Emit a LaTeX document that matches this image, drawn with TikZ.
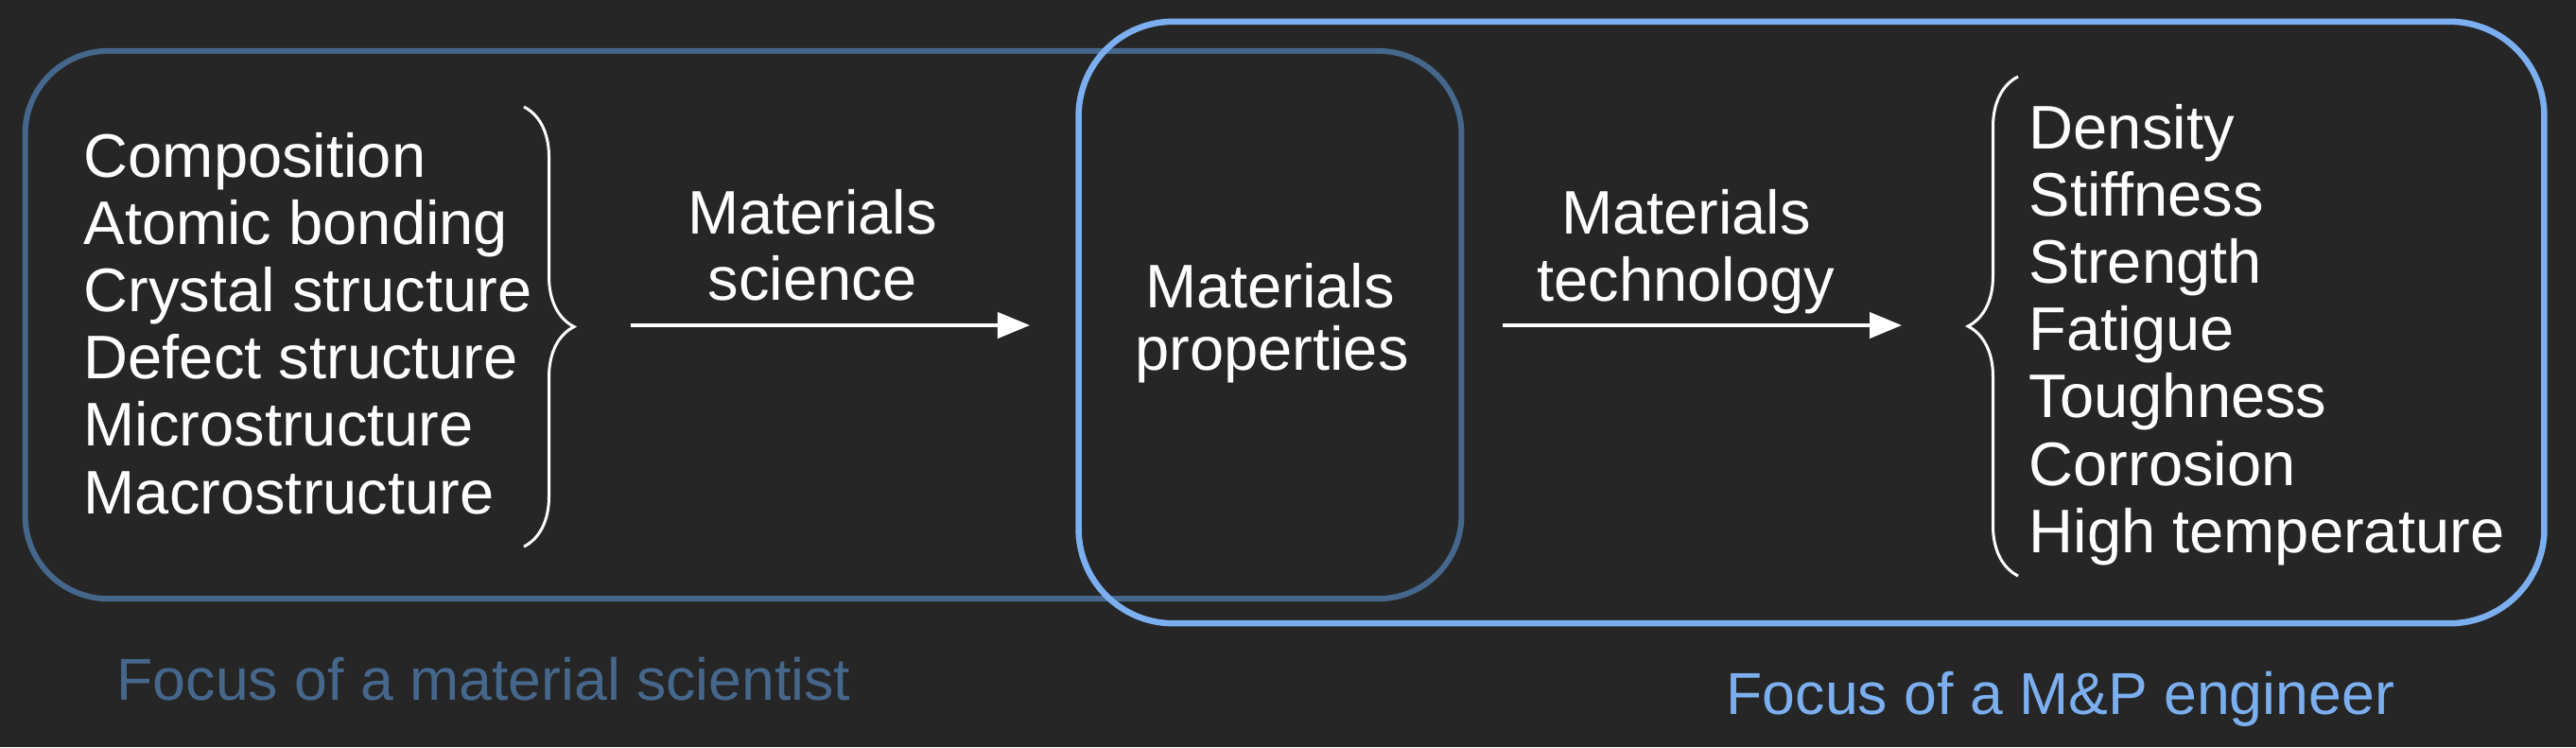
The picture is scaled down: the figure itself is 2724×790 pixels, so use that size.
\documentclass[tikz,border=0pt]{standalone}
\usepackage{fontspec}
\setmainfont{Liberation Sans}
\usetikzlibrary{arrows.meta,decorations.pathreplacing}
\definecolor{bg}{HTML}{262626}
\definecolor{sciblue}{HTML}{46678C}
\definecolor{engblue}{HTML}{7BAFF0}
\begin{document}
\begin{tikzpicture}[x=0.01cm,y=-0.01cm,
  item/.style={text=white, font=\fontsize{18.5pt}{20pt}\selectfont, inner sep=0pt},
  focus/.style={font=\fontsize{17.8pt}{20pt}\selectfont, inner sep=0pt, anchor=base west},
  focusbox/.style={draw, rounded corners=#1, inner sep=0pt, fill=none},
  flow/.style={draw=white, line width=0.04cm, -{Triangle[length=0.34cm,width=0.27cm]}},
  bracepath/.style={draw=white, line width=0.03cm, decorate, decoration={brace, amplitude=0.53cm}}
]
\fill[bg] (0,0) rectangle (2724,790);
\useasboundingbox (0,0) rectangle (2724,790);

% focus boxes
\node[focusbox=0.88cm, draw=sciblue, line width=0.06cm, minimum width=15.18cm, minimum height=5.79cm] (sci) at (786,343.5) {};
\node[focusbox=1.0cm, draw=engblue, line width=0.065cm, minimum width=15.49cm, minimum height=6.36cm] (eng) at (1915.5,341) {};

% left list
\foreach \t [count=\i from 0] in {Composition, Atomic bonding, Crystal structure, Defect structure, Microstructure, Macrostructure}
  \node[item, anchor=base west] (L\i) at (88,187+71.2*\i) {\t};

% right list
\foreach \t [count=\i from 0] in {Density, Stiffness, Strength, Fatigue, Toughness, Corrosion, High temperature}
  \node[item, anchor=base west] (R\i) at (2145,157+71.2*\i) {\t};

% braces
\coordinate (lbt) at (554,113);
\coordinate (lbb) at (554,578);
\draw[bracepath] (lbt) -- (lbb);
\coordinate (rbb) at (2134,609);
\coordinate (rbt) at (2134,81);
\draw[bracepath] (rbb) -- (rbt);

% center text
\node[item, anchor=base] (mp1) at (1343,325) {Materials};
\node[item, anchor=base] (mp2) at (1345,391) {properties};

% arrow labels
\node[item, anchor=base] (ms1) at (859,247) {Materials};
\node[item, anchor=base] (ms2) at (859,317) {science};
\node[item, anchor=base] (mt1) at (1783,247) {Materials};
\node[item, anchor=base] (mt2) at (1783,318) {technology};

% arrows
\coordinate (a1s) at (667,344);
\coordinate (a1e) at (1089,344);
\coordinate (a2s) at (1589,344);
\coordinate (a2e) at (2011,344);
\draw[flow] (a1s) -- (a1e);
\draw[flow] (a2s) -- (a2e);

% captions
\node[focus, text=sciblue] (fs) at (123,740) {Focus of a material scientist};
\node[focus, text=engblue] (fe) at (1825,755) {Focus of a M\&P engineer};
\end{tikzpicture}
\end{document}
